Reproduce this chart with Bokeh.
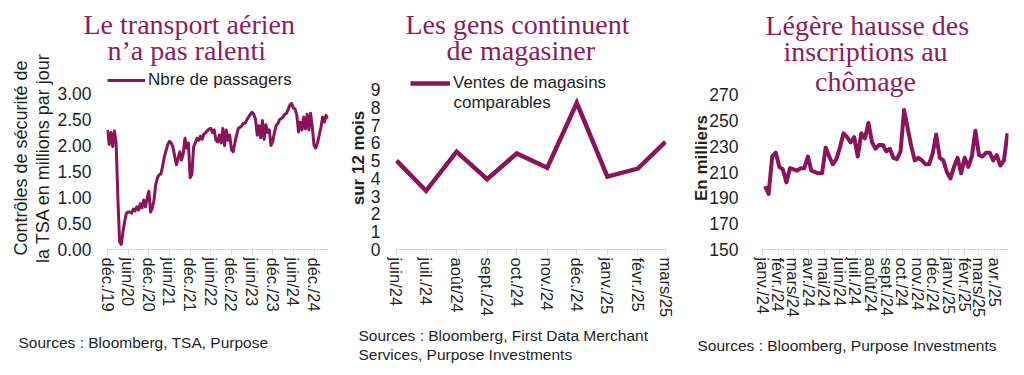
import numpy as np
import pandas as pd
from bokeh.plotting import figure
from bokeh.layouts import row
from bokeh.models import (Label, Legend, LegendItem, FixedTicker, Range1d,
                          NumeralTickFormatter, Title)
from bokeh.core.properties import value
from bokeh.embed import file_html
from bokeh.resources import INLINE

LINE_COLOR = "#8a1459"
TITLE_COLOR = "#8c1d5f"
TEXT_COLOR = "#1f1f1f"
AXIS_COLOR = "#d9d9d9"
SANS = "Liberation Sans"
SERIF = "Liberation Serif"

# ---------------- Data: TSA checkpoint (semi-monthly readings from Dec 2019)
tsa_values = [
    2.30, 2.02, 2.25, 1.98, 2.28, 2.05, 1.00, 0.15, 0.10, 0.35,
    0.55, 0.70, 0.72, 0.72, 0.70, 0.78, 0.74, 0.82, 0.76, 0.88,
    0.80, 0.95, 0.82, 0.98, 1.12, 0.72, 0.80, 0.95, 1.25, 1.38,
    1.44, 1.45, 1.60, 1.78, 1.90, 2.02, 2.08, 2.05, 1.97, 1.80,
    1.63, 1.75, 1.88, 1.72, 1.85, 2.14, 1.95, 2.05, 1.38, 1.44,
    1.97, 2.05, 2.14, 2.10, 2.18, 2.12, 2.22, 2.25, 2.28, 2.32,
    2.33, 2.25, 2.30, 2.10, 2.07, 2.20, 2.05, 2.33, 2.00, 2.30,
    2.10, 2.20, 1.92, 1.88, 2.05, 2.20, 2.33, 2.35, 2.38, 2.43,
    2.43, 2.50, 2.55, 2.60, 2.64, 2.60, 2.50, 2.20, 2.38, 2.15,
    2.48, 2.12, 2.40, 2.25, 2.30, 2.00, 2.08, 2.25, 2.39, 2.42,
    2.50, 2.52, 2.55, 2.60, 2.62, 2.70, 2.78, 2.81, 2.72, 2.70,
    2.58, 2.26, 2.45, 2.30, 2.55, 2.32, 2.60, 2.30, 2.62, 2.35,
    2.00, 1.95, 2.05, 2.20, 2.35, 2.55, 2.45, 2.58, 2.52,
]
tsa_tick_months = [0, 6, 12, 18, 24, 30, 36, 42, 48, 54, 60]
tsa_tick_labels = ["déc./19", "juin/20", "déc./20", "juin/21", "déc./21",
                   "juin/22", "déc./22", "juin/23", "déc./23", "juin/24",
                   "déc./24"]
tsa_y_ticks = [0.0, 0.5, 1.0, 1.5, 2.0, 2.5, 3.0]

# ---------------- Data: same-store sales (monthly)
sales_dates = ["2024-06-01", "2024-07-01", "2024-08-01", "2024-09-01",
               "2024-10-01", "2024-11-01", "2024-12-01", "2025-01-01",
               "2025-02-01", "2025-03-01"]
sales_labels = ["juin/24", "juil./24", "août/24", "sept./24", "oct./24",
                "nov./24", "déc./24", "janv./25", "févr./25", "mars/25"]
sales_values = [5.0, 3.3, 5.5, 3.95, 5.4, 4.6, 8.25, 4.1, 4.55, 6.05]
sales_y_ticks = [0, 1, 2, 3, 4, 5, 6, 7, 8, 9]

# ---------------- Data: initial jobless claims (weekly, thousands)
claims_first_week = "2024-01-06"
claims_values = [
    199, 193, 222, 225,
    214, 212, 202, 213,
    212, 211, 213, 213, 222,
    211, 210, 209, 209,
    229, 222, 216, 220,
    229, 240, 237, 233, 237,
    222, 240, 236, 248,
    233, 228, 231, 231, 226,
    228, 221, 220, 226,
    258, 244, 230, 219,
    221, 219, 216, 216, 224,
    239, 221, 219, 210,
    205, 214, 221, 209,
    221, 214, 222, 242,
    223, 222, 225, 225, 219,
    223, 215, 219, 240,
]
claims_tick_dates = ["2024-01-01", "2024-02-01", "2024-03-01", "2024-04-01",
                     "2024-05-01", "2024-06-01", "2024-07-01", "2024-08-01",
                     "2024-09-01", "2024-10-01", "2024-11-01", "2024-12-01",
                     "2025-01-01", "2025-02-01", "2025-03-01", "2025-04-01"]
claims_tick_labels = ["janv./24", "févr./24", "mars/24", "avr./24", "mai/24",
                      "juin/24", "juil./24", "août/24", "sept./24", "oct./24",
                      "nov./24", "déc./24", "janv./25", "févr./25", "mars/25",
                      "avr./25"]
claims_y_ticks = [150, 170, 190, 210, 230, 250, 270]

TOP = 66
BOTTOM = 118
TITLE_SIZE = "28px"


def base_fig(width, x_range, y_range, ml, mr):
    p = figure(width=width, height=367, x_range=x_range, y_range=y_range,
               output_backend="svg", toolbar_location=None, title=None,
               min_border_left=ml, min_border_right=mr,
               min_border_top=TOP, min_border_bottom=BOTTOM)
    p.outline_line_color = None
    p.xgrid.visible = False
    p.ygrid.visible = False
    p.background_fill_color = "white"
    p.border_fill_color = "white"
    xa = p.xaxis[0]
    xa.axis_line_color = AXIS_COLOR
    xa.major_tick_line_color = AXIS_COLOR
    xa.major_tick_out = 5
    xa.major_tick_in = 0
    xa.minor_tick_line_color = None
    xa.major_label_orientation = "vertical"
    xa.major_label_text_font = SANS
    xa.major_label_text_font_size = "16.5px"
    xa.major_label_text_color = TEXT_COLOR
    xa.major_label_standoff = 3
    ya = p.yaxis[0]
    ya.axis_line_color = None
    ya.major_tick_line_color = None
    ya.minor_tick_line_color = None
    ya.major_tick_out = 0
    ya.major_tick_in = 0
    ya.major_label_text_font = SANS
    ya.major_label_text_font_size = "17.5px"
    ya.major_label_text_color = TEXT_COLOR
    ya.axis_label_text_font = SANS
    ya.axis_label_text_color = TEXT_COLOR
    return p


def add_title(p, text, offset, standoff):
    # one Title per line, left aligned at frame left + offset
    p.add_layout(Title(text=text, align="left", offset=offset,
                       standoff=standoff, text_font=SERIF,
                       text_font_size=TITLE_SIZE, text_font_style="normal",
                       text_color=TITLE_COLOR), "above")


def add_sources(p, text, offset, standoff):
    p.add_layout(Title(text=text, align="left", offset=offset,
                       standoff=standoff, text_font=SANS,
                       text_font_size="15.5px", text_font_style="normal",
                       text_color=TEXT_COLOR, text_line_height=1.15), "below")


def add_legend(p, renderer, text, loc, glyph_w):
    leg = Legend(items=[LegendItem(label=value(text), renderers=[renderer])],
                 location=loc, glyph_width=glyph_w, glyph_height=20,
                 label_height=20, label_standoff=3, padding=0, margin=0,
                 spacing=0, border_line_color=None, background_fill_alpha=0,
                 label_text_font=SANS, label_text_font_size="17px",
                 label_text_color=TEXT_COLOR)
    p.add_layout(leg)


# ---------------- Panel 1
tsa_x = np.arange(len(tsa_values)) * 0.5
p1 = base_fig(345, Range1d(-0.3, 64.2), Range1d(0, 3.52), 106, 17)
r1 = p1.line(tsa_x, tsa_values, line_color=LINE_COLOR, line_width=3,
             line_join="round")
p1.xaxis.ticker = FixedTicker(ticks=tsa_tick_months)
p1.xaxis.major_label_overrides = dict(zip(tsa_tick_months, tsa_tick_labels))
p1.yaxis.ticker = FixedTicker(ticks=tsa_y_ticks)
p1.yaxis.formatter = NumeralTickFormatter(format="0.00")
p1.yaxis.major_label_standoff = 15
ya1 = p1.yaxis[0]
ya1.axis_label = "Contrôles de sécurité de\nla TSA en millions par jour"
ya1.axis_label_text_font_size = "18px"
ya1.axis_label_text_font_style = "normal"
ya1.axis_label_text_line_height = 1.1
ya1.axis_label_standoff = 1
add_legend(p1, r1, "Nbre de passagers", (1, 159), 38)
add_title(p1, "n’a pas ralenti", 1, 2)
add_title(p1, "Le transport aérien", -23, -16)
add_sources(p1, "Sources : Bloomberg, TSA, Purpose", -88, 34)

# ---------------- Panel 2
s_ref = pd.Timestamp(sales_dates[0])
sales_x = [(pd.Timestamp(d) - s_ref).days for d in sales_dates]
p2 = base_fig(340, Range1d(-1, 274), Range1d(0, 10.29), 47, 19)
r2 = p2.line(sales_x, sales_values, line_color=LINE_COLOR, line_width=4.5,
             line_join="miter")
p2.xaxis.ticker = FixedTicker(ticks=sales_x)
p2.xaxis.major_label_overrides = dict(zip(sales_x, sales_labels))
p2.yaxis.ticker = FixedTicker(ticks=sales_y_ticks)
p2.yaxis.major_label_standoff = 15
p2.yaxis.axis_label = "sur 12 mois"
p2.yaxis.axis_label_text_font_size = "17px"
p2.yaxis.axis_label_text_font_style = "bold"
p2.yaxis.axis_label_standoff = 0
add_legend(p2, r2, "Ventes de magasins", (15, 156), 40)
p2.add_layout(Label(x=58, y=147, x_units="screen", y_units="screen",
                    text="comparables", text_font=SANS, text_font_size="17px",
                    text_color=TEXT_COLOR, text_baseline="middle"))
add_title(p2, "de magasiner", 51, 2)
add_title(p2, "Les gens continuent", 10, -16)
add_sources(p2, "Sources : Bloomberg, First Data Merchant\n"
                "Services, Purpose Investments", -37, 8)

# ---------------- Panel 3
c_ref = pd.Timestamp(claims_tick_dates[0])
claims_dates = pd.date_range(claims_first_week, periods=len(claims_values),
                             freq="7D")
claims_x = [(d - c_ref).days for d in claims_dates]
claims_tick_x = [(pd.Timestamp(d) - c_ref).days for d in claims_tick_dates]
p3 = base_fig(331, Range1d(-2, 483), Range1d(150, 291.7), 76, 8)
p3.line(claims_x, claims_values, line_color=LINE_COLOR, line_width=4,
        line_join="round")
p3.xaxis.ticker = FixedTicker(ticks=claims_tick_x)
p3.xaxis.major_label_overrides = dict(zip(claims_tick_x, claims_tick_labels))
p3.yaxis.ticker = FixedTicker(ticks=claims_y_ticks)
p3.yaxis.major_label_standoff = 23
p3.yaxis.axis_label = "En milliers"
p3.yaxis.axis_label_text_font_size = "17px"
p3.yaxis.axis_label_text_font_style = "bold"
p3.yaxis.axis_label_standoff = -5
add_title(p3, "inscriptions au", 22, 0)
add_title(p3, "Légère hausse des", 4, -14)
p3.add_layout(Label(x=104, y=168, x_units="screen", y_units="screen",
                    text="chômage", text_font=SERIF,
                    text_font_size=TITLE_SIZE, text_color=TITLE_COLOR,
                    text_align="center", text_baseline="alphabetic"))
add_sources(p3, "Sources : Bloomberg, Purpose Investments", -64, 28)

layout = row(p1, p2, p3)
open("out.html", "w").write(file_html(layout, INLINE))
